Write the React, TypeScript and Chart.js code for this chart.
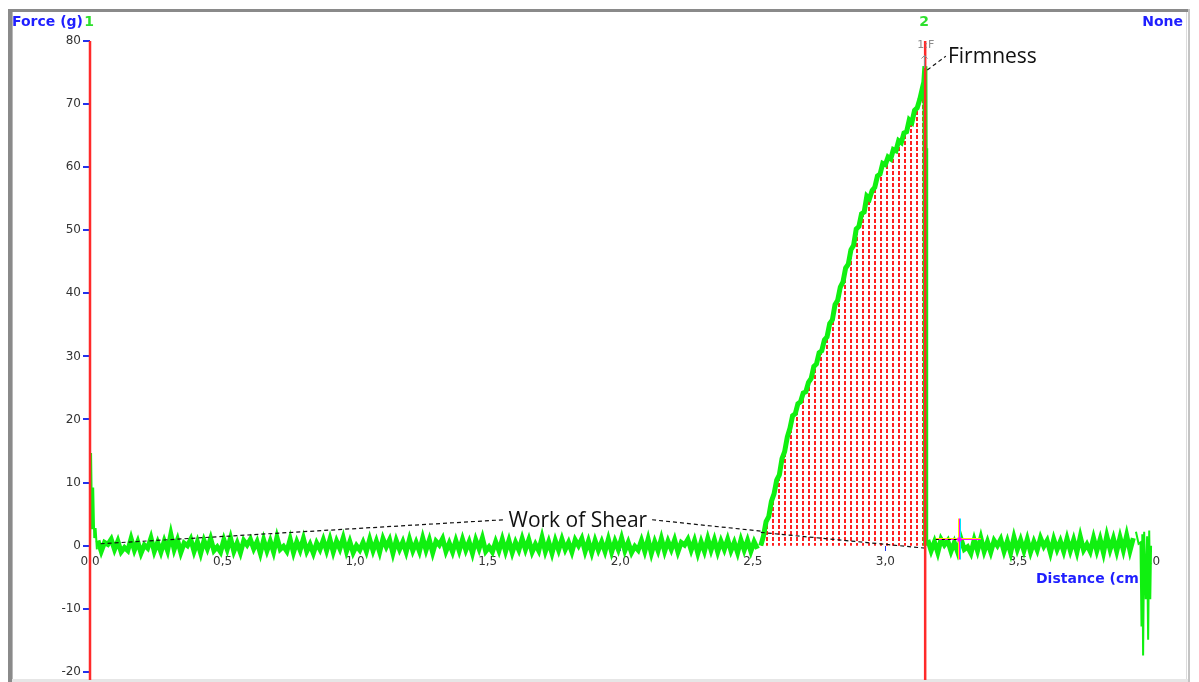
import React, { useEffect, useRef } from 'react';
import { Chart, registerables } from 'chart.js';

Chart.register(...registerables);

// ---------------- data ----------------
const sampleStep = 0.0125;

const startDistance = [0, 0.004, 0.008, 0.012, 0.016, 0.021, 0.026];
const startForce = [0, 14.7, 2.6, 9.2, 1.2, 2.8, -0.6];

const shearBaselineStart = 0.03;
const shearBaseline = [
  0.8, -0.9, 0.5, 0.2, 1.0, -0.6, 0.7, -1.0, -0.3, -0.8,
  1.1, -0.7, 0.6, -1.2, 0.1, -0.4, 1.2, -0.9, 0.5, -1.0,
  0.7, -0.8, 1.8, -0.6, 0.9, -1.1, 0.4, 0.0, 1.0, -0.9,
  0.6, -1.2, 0.8, -0.5, 1.1, -0.8, -0.2, -1.0, 0.9, -0.6,
  1.2, -0.9, 0.4, -1.1, 0.8, 0.1, 1.0, -0.5, 0.6, -1.2,
  0.9, -0.8, 0.7, -1.0, 1.3, -0.6, -0.1, -0.9, 1.0, -1.1,
  0.6, -0.7, 1.1, -0.9, 0.2, -1.2, 0.4, -0.6, 0.9, -0.8,
  1.0, -1.0, 0.7, -0.5, 1.2, -0.9, 0.6, -1.1, 0.0, -0.7,
  0.5, -0.9, 1.0, -0.8, 0.7, -1.0, 1.1, -0.2, 0.9, -1.2,
  0.8, -0.6, 0.6, -1.0, 1.0, -0.8, 0.5, -0.9, 1.2, -0.7,
  0.9, -1.1, 0.7, 0.1, 1.1, -0.9, 0.4, -1.0, 0.8, -0.8,
  1.0, -0.7, 0.6, -1.2, 0.9, -0.5, 1.2, -0.9, -0.2, -1.0,
  0.6, -0.8, 1.0, -0.9, 0.8, -1.1, 0.5, -0.7, 1.1, -0.6,
  0.9, -1.0, 0.2, -0.8, 1.3, -0.9, 0.6, -1.2, 0.8, -0.7,
  1.0, -0.6, 0.5, -1.0, 0.9, 0.0, 1.1, -0.9, 0.7, -1.1,
  0.8, -0.7, 0.6, -0.9, 1.0, -1.0, 0.7, -0.6, 1.2, -0.8,
  0.5, -1.1, -0.1, -0.7, 0.8, -0.9, 1.0, -1.2, 0.6, -0.8,
  1.1, -0.9, 0.7, -0.6, 0.9, -1.0, 0.5, 0.1, 1.0, -0.7,
  0.8, -1.2, 0.6, -0.9, 1.1, -0.7, 0.9, -1.0, 0.7, -0.6,
  1.0, -0.8, 0.5, -1.1, 0.9, -0.7, 0.8, -0.9, 0.6, -0.5,
];

const riseDistance = [
  2.53, 2.54, 2.55, 2.56, 2.57, 2.58, 2.59, 2.6, 2.61, 2.62,
  2.63, 2.64, 2.65, 2.66, 2.67, 2.68, 2.69, 2.7, 2.71, 2.72,
  2.73, 2.74, 2.75, 2.76, 2.77, 2.78, 2.79, 2.8, 2.81, 2.82,
  2.83, 2.84, 2.85, 2.86, 2.87, 2.88, 2.89, 2.9, 2.91, 2.92,
  2.93, 2.94, 2.95, 2.96, 2.97, 2.98, 2.99, 3.0, 3.01, 3.02,
  3.03, 3.04, 3.05, 3.06, 3.07, 3.08, 3.09, 3.1, 3.11, 3.12,
  3.13, 3.14, 3.145, 3.149, 3.15, 3.152,
];
const riseForce = [
  0.0, 1.5, 3.8, 4.6, 7.0, 8.2, 10.4, 11.2, 13.8, 14.9,
  17.2, 18.6, 20.6, 20.9, 22.5, 22.8, 24.2, 24.4, 25.9, 26.5,
  28.4, 28.8, 30.6, 30.9, 32.6, 33.1, 35.2, 35.8, 38.2, 38.9,
  41.0, 41.8, 44.0, 44.6, 46.9, 47.6, 50.2, 50.6, 52.6, 52.9,
  55.4, 55.0, 56.3, 56.8, 58.6, 58.9, 60.6, 60.4, 61.6, 61.3,
  62.8, 62.6, 64.2, 63.9, 65.4, 65.6, 67.5, 67.1, 69.0, 69.4,
  70.8, 72.6, 73.5, 76.0, 63.0, 0.0,
];

const returnBaselineStart = 3.16;
const returnBaseline = [
  0.9, -0.8, 0.6, -1.1, 1.0, 0.1, 0.8, -0.9, 0.5, -1.0,
  1.1, -0.6, -0.2, -1.2, 0.9, -0.8, 1.2, -0.9, 0.6, -1.0,
  0.8, 0.0, 1.0, -0.9, 0.7, -1.1, 1.3, -0.6, 0.9, -0.8,
  1.0, -1.0, 0.6, -0.7, 1.2, -0.1, 0.8, -1.1, 1.0, -0.6,
  0.7, -0.9, 1.1, -0.8, 0.9, -1.0, 1.4, -0.7, 0.2, -0.9,
  1.2, -0.8, 1.0, -1.1, 1.5, -0.6, 1.1, -0.9, 1.3, -0.7,
  1.6, -0.8, 1.2,
];

const endDistance = [3.945, 3.955, 3.962, 3.966, 3.969, 3.972, 3.976, 3.982, 3.987, 3.991, 3.995, 3.999, 4.002];
const endForce = [2.2, 0.3, 0.5, -12.8, 1.8, -17.4, 2.2, -8.5, 1.5, -14.9, 2.4, -8.5, 0.0];

const markerDistance = [0, 3.15];
const markerLabels = ['1', '2'];

const forceMin = -21.3;
const forceMax = 80;
const distanceMin = 0;
const distanceMax = 4.13;
const distanceStep = 0.5;
const forceStep = 10;

const shearLeftDistance = [0.04, 1.56];
const shearLeftForce = [0.3, 4.1];
const shearRightDistance = [2.12, 2.53];
const shearRightForce = [4.1, 2.3];
const shearBaseDistance = [2.53, 3.15];
const shearBaseForce = [2.1, -0.4];
const firmLeaderDistance = [3.158, 3.228];
const firmLeaderForce = [75.4, 77.6];

const workLabel = { text: 'Work of Shear', x: 1.84, y: 3.96 };
const firmLabel = { text: 'Firmness', x: 3.236, y: 77.4 };
const peakTag = { text: '1:F', x: 3.152, y: 79.3 };
const distanceTitle = { text: 'Distance (cm)', x: 3.568, y: -5.39 };
const forceTitle = 'Force (g)';
const noneLabel = 'None';

const crossDistance = 3.278;
const crossForce = 1.0;

// ---------------- helpers ----------------
const pts = (xs: number[], ys: number[]) => xs.map((x, i) => ({ x, y: ys[i] }));
const sampled = (start: number, ys: number[]) =>
  ys.map((y, i) => ({ x: +(start + i * sampleStep).toFixed(4), y }));

const GREEN = '#10f010';
const RED = '#ff2a2a';
const BLUE = '#1f1fff';
const LABEL_GREEN = '#2ee02e';

function makeHatch(): CanvasPattern | string {
  const c = document.createElement('canvas');
  c.width = 6;
  c.height = 6;
  const g = c.getContext('2d');
  if (!g) return 'rgba(255,0,0,0.4)';
  g.fillStyle = '#ff2020';
  g.fillRect(2, 1, 2, 4);
  const p = g.createPattern(c, 'repeat');
  return p || 'rgba(255,0,0,0.4)';
}

const decorPlugin = {
  id: 'decor',
  beforeDraw(chart: any) {
    const { ctx, width, height } = chart;
    ctx.save();
    ctx.fillStyle = '#ffffff';
    ctx.fillRect(0, 0, width, height);
    ctx.fillStyle = '#8a8a8a';
    ctx.fillRect(0, 1, 1181, 3);
    ctx.fillRect(0, 1, 4, height - 1);
    ctx.fillStyle = '#b8b8b8';
    ctx.fillRect(4, 4, 1, height - 4);
    ctx.fillStyle = '#dcdcdc';
    ctx.fillRect(1178, 4, 1, height - 4);
    ctx.fillStyle = '#c4c4c4';
    ctx.fillRect(1180, 1, 2, height - 1);
    ctx.fillStyle = '#e6e6e6';
    ctx.fillRect(4, height - 3, 1176, 3);
    ctx.restore();
  },
  beforeDatasetsDraw(chart: any) {
    const { ctx, scales } = chart;
    const x = scales.x, y = scales.y;
    ctx.save();
    ctx.font = 'bold 14px "DejaVu Sans"';
    ctx.fillStyle = BLUE;
    ctx.textAlign = 'left';
    ctx.textBaseline = 'middle';
    ctx.fillText(distanceTitle.text, x.getPixelForValue(distanceTitle.x), y.getPixelForValue(distanceTitle.y));
    ctx.restore();
  },
  afterDatasetsDraw(chart: any) {
    const { ctx, scales, chartArea } = chart;
    const x = scales.x, y = scales.y;
    ctx.save();
    ctx.font = 'bold 14px "DejaVu Sans"';
    ctx.textBaseline = 'middle';
    ctx.fillStyle = BLUE;
    ctx.textAlign = 'left';
    ctx.fillText(forceTitle, 4, 14);
    ctx.textAlign = 'right';
    ctx.fillText(noneLabel, chartArea.right - 2, 14);
    ctx.fillStyle = LABEL_GREEN;
    ctx.textAlign = 'center';
    markerDistance.forEach((d, i) => {
      ctx.fillText(markerLabels[i], x.getPixelForValue(d) - 1, 14);
    });

    ctx.font = '21px "Open Sans"';
    ctx.fillStyle = '#111111';
    ctx.textAlign = 'center';
    ctx.fillText(workLabel.text, x.getPixelForValue(workLabel.x), y.getPixelForValue(workLabel.y));
    ctx.textAlign = 'left';
    ctx.fillText(firmLabel.text, x.getPixelForValue(firmLabel.x), y.getPixelForValue(firmLabel.y));

    ctx.font = '11px "DejaVu Sans"';
    ctx.fillStyle = '#8c8c8c';
    ctx.textAlign = 'center';
    const tx = x.getPixelForValue(peakTag.x);
    ctx.fillText(peakTag.text, tx, y.getPixelForValue(peakTag.y));
    const ax = Math.round(tx) - 1.5;
    const aTop = y.getPixelForValue(77.7);
    const aBot = y.getPixelForValue(75.7);
    ctx.strokeStyle = '#8c8c8c';
    ctx.lineWidth = 1;
    ctx.beginPath();
    ctx.moveTo(ax, aBot);
    ctx.lineTo(ax, aTop);
    ctx.moveTo(ax - 3, aTop + 3);
    ctx.lineTo(ax, aTop);
    ctx.lineTo(ax + 3, aTop + 3);
    ctx.stroke();

    const cx = Math.round(x.getPixelForValue(crossDistance)) + 0.5;
    const cy = Math.round(y.getPixelForValue(crossForce)) + 0.5;
    const vTop = y.getPixelForValue(4.3);
    const vBot = y.getPixelForValue(-2.2);
    const hL = x.getPixelForValue(3.19);
    const hR = x.getPixelForValue(3.36);
    ctx.lineWidth = 1;
    ctx.strokeStyle = '#ffe600';
    ctx.beginPath(); ctx.moveTo(cx - 1, vTop); ctx.lineTo(cx - 1, vBot); ctx.stroke();
    ctx.strokeStyle = '#ff00ff';
    ctx.beginPath(); ctx.moveTo(cx, vTop); ctx.lineTo(cx, vBot); ctx.stroke();
    ctx.strokeStyle = '#00e5ff';
    ctx.beginPath(); ctx.moveTo(cx + 1, vTop); ctx.lineTo(cx + 1, vBot); ctx.stroke();
    ctx.strokeStyle = '#ffe600';
    ctx.beginPath(); ctx.moveTo(hL, cy - 1); ctx.lineTo(hR, cy - 1); ctx.stroke();
    ctx.strokeStyle = '#ff00ff';
    ctx.beginPath(); ctx.moveTo(hL, cy); ctx.lineTo(hR, cy); ctx.stroke();
    ctx.strokeStyle = '#000000';
    ctx.setLineDash([3, 3]);
    ctx.beginPath(); ctx.moveTo(hL, cy); ctx.lineTo(cx - 3, cy); ctx.stroke();
    ctx.setLineDash([]);
    ctx.fillStyle = '#ff00ff';
    ctx.fillRect(cx - 2, cy - 2, 4, 4);
    ctx.restore();
  },
};

export default function App() {
  const canvasRef = useRef<HTMLCanvasElement | null>(null);

  useEffect(() => {
    const canvas = canvasRef.current;
    if (!canvas) return;
    const hatch = makeHatch();

    const lineBase = {
      pointRadius: 0,
      pointHoverRadius: 0,
      tension: 0,
      fill: false,
    };

    const dashed = (xs: number[], ys: number[]) => ({
      ...lineBase,
      data: pts(xs, ys),
      borderColor: '#111111',
      borderWidth: 1.2,
      borderDash: [4, 3],
    });

    const chart = new Chart(canvas, {
      type: 'line',
      data: {
        datasets: [
          ...markerDistance.map((d) => ({
            ...lineBase,
            data: pts([d, d], [forceMax, forceMin]),
            borderColor: RED,
            borderWidth: 2.5,
            clip: false,
          })),
          dashed(shearLeftDistance, shearLeftForce),
          dashed(shearRightDistance, shearRightForce),
          dashed(shearBaseDistance, shearBaseForce),
          dashed(firmLeaderDistance, firmLeaderForce),
          {
            ...lineBase,
            data: pts(startDistance, startForce),
            borderColor: GREEN,
            borderWidth: 2,
          },
          {
            ...lineBase,
            data: sampled(shearBaselineStart, shearBaseline),
            borderColor: GREEN,
            borderWidth: 5,
            fill: 'origin',
            backgroundColor: hatch as any,
          },
          {
            ...lineBase,
            data: pts(riseDistance, riseForce),
            borderColor: GREEN,
            borderWidth: 5,
            fill: 'origin',
            backgroundColor: hatch as any,
          },
          {
            ...lineBase,
            data: sampled(returnBaselineStart, returnBaseline),
            borderColor: GREEN,
            borderWidth: 5,
          },
          {
            ...lineBase,
            data: pts(endDistance, endForce),
            borderColor: GREEN,
            borderWidth: 2,
          },
        ],
      },
      options: {
        animation: false,
        responsive: true,
        maintainAspectRatio: false,
        layout: { padding: { left: 8, top: 33, right: 6, bottom: 2 } },
        plugins: {
          legend: { display: false },
          tooltip: { enabled: false },
        },
        events: [],
        scales: {
          x: {
            type: 'linear',
            min: distanceMin,
            max: distanceMax,
            position: { y: 0 } as any,
            afterFit: (s: any) => {
              s.height = 0;
              s.paddingLeft = 0;
              s.paddingRight = 0;
            },
            grid: {
              drawOnChartArea: false,
              drawTicks: true,
              tickLength: 5,
              tickColor: '#2233ee',
              lineWidth: 1,
            },
            border: { display: false },
            ticks: {
              stepSize: distanceStep,
              includeBounds: false,
              autoSkip: false,
              maxRotation: 0,
              padding: 4,
              color: '#333333',
              font: { family: '"DejaVu Sans"', size: 12 },
              callback: (v: any) => Number(v).toFixed(1).replace('.', ','),
            },
          },
          y: {
            type: 'linear',
            min: forceMin,
            max: forceMax,
            afterFit: (s: any) => {
              s.width = 74;
              s.paddingTop = 0;
              s.paddingBottom = 0;
            },
            grid: {
              drawOnChartArea: false,
              drawTicks: true,
              tickLength: 7,
              tickColor: '#2233ee',
              lineWidth: 2,
            },
            border: { display: false },
            ticks: {
              stepSize: forceStep,
              includeBounds: false,
              padding: 2,
              color: '#333333',
              font: { family: '"DejaVu Sans"', size: 12 },
            },
          },
        },
      },
      plugins: [decorPlugin],
    } as any);

    return () => chart.destroy();
  }, []);

  return (
    <div style={{ position: 'relative', width: 1183, height: 674 }}>
      <canvas ref={canvasRef} />
    </div>
  );
}
